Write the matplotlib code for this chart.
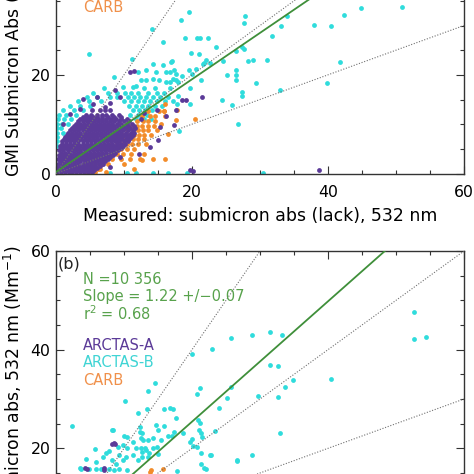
import matplotlib
matplotlib.use("Agg")
import numpy as np
import matplotlib.pyplot as plt
from matplotlib.ticker import MultipleLocator

PURPLE = "#5b3a98"
CYAN = "#2fdcdc"
ORANGE = "#f28c2a"
GREEN_LINE = "#3f8f3a"
GREEN_TEXT = "#58a24c"
DOT_GREY = "#707070"

campaigns = ["ARCTAS-A", "ARCTAS-B", "CARB"]
label_colors = [PURPLE, "#3fd4d4", "#f0904a"]

ref_slopes = [2.0, 1.0, 0.5]

# fit lines
fit_a = (0.94, 0.3)
fit_b = (1.22, 1.0)
stats_b = ["N =10 356", "Slope = 1.22 +/\u22120.07", "r$^2$ = 0.68"]

# ---------------- panel (a): dense rows (y, [x...]) + single points
a_purple_rows = [
    (0.3, [0.2, 0.7, 1.3, 1.9, 2.4, 3.0, 3.6, 4.1, 4.7, 5.3]),
    (0.7, [0.5, 1.0, 1.6, 2.2, 2.8, 3.3, 3.9, 4.4, 5.0, 5.6]),
    (1.1, [0.2, 0.8, 1.4, 2.0, 2.5, 3.1, 3.7, 4.3, 4.9, 5.5, 6.1]),
    (1.55, [0.5, 1.1, 1.7, 2.3, 2.8, 3.4, 4.0, 4.6, 5.2, 5.8, 6.4]),
    (2.0, [0.3, 0.9, 1.5, 2.1, 2.7, 3.3, 3.9, 4.5, 5.1, 5.7, 6.3, 6.9]),
    (2.45, [0.6, 1.2, 1.8, 2.4, 3.0, 3.6, 4.2, 4.8, 5.4, 6.0, 6.6, 7.2]),
    (2.9, [0.3, 0.9, 1.5, 2.2, 2.8, 3.4, 4.0, 4.6, 5.2, 5.8, 6.4, 7.0, 7.6]),
    (3.35, [0.6, 1.2, 1.9, 2.5, 3.1, 3.7, 4.3, 4.9, 5.5, 6.1, 6.7, 7.3, 8.0]),
    (3.8, [0.4, 1.0, 1.6, 2.2, 2.9, 3.5, 4.1, 4.7, 5.3, 5.9, 6.5, 7.1, 7.7, 8.4]),
    (4.25, [0.7, 1.3, 1.9, 2.6, 3.2, 3.8, 4.4, 5.0, 5.6, 6.2, 6.8, 7.4, 8.1, 8.7]),
    (4.7, [0.5, 1.1, 1.7, 2.3, 2.9, 3.5, 4.2, 4.8, 5.4, 6.0, 6.6, 7.2, 7.8, 8.4, 9.1]),
    (5.15, [0.8, 1.4, 2.0, 2.6, 3.2, 3.9, 4.5, 5.1, 5.7, 6.3, 6.9, 7.5, 8.1, 8.8, 9.5]),
    (5.6, [0.6, 1.2, 1.8, 2.4, 3.0, 3.6, 4.3, 4.9, 5.5, 6.1, 6.7, 7.3, 7.9, 8.5, 9.2, 9.9]),
    (6.05, [0.9, 1.5, 2.1, 2.7, 3.3, 4.0, 4.6, 5.2, 5.8, 6.4, 7.0, 7.6, 8.2, 8.9, 9.6, 10.2]),
    (6.5, [0.9, 1.5, 2.1, 2.7, 3.3, 3.9, 4.5, 5.1, 5.7, 6.3, 6.9, 7.5, 8.1, 8.7, 9.3, 10.0, 10.6]),
    (6.95, [1.2, 1.8, 2.4, 3.0, 3.6, 4.2, 4.8, 5.4, 6.0, 6.6, 7.2, 7.8, 8.4, 9.0, 9.6, 10.3, 10.8]),
    (7.4, [1.3, 1.9, 2.5, 3.1, 3.7, 4.3, 4.9, 5.5, 6.1, 6.7, 7.3, 7.9, 8.5, 9.1, 9.7, 10.4, 11.0]),
    (7.85, [1.6, 2.2, 2.8, 3.4, 4.0, 4.6, 5.2, 5.8, 6.4, 7.0, 7.6, 8.2, 8.8, 9.4, 10.0, 10.7, 11.3]),
    (8.3, [1.8, 2.4, 3.0, 3.6, 4.2, 4.8, 5.4, 6.0, 6.6, 7.2, 7.8, 8.4, 9.0, 9.6, 10.3, 11.0, 11.5]),
    (8.75, [2.1, 2.7, 3.3, 3.9, 4.5, 5.1, 5.7, 6.3, 6.9, 7.5, 8.1, 8.7, 9.3, 9.9, 10.6, 11.3]),
    (9.2, [2.3, 2.9, 3.5, 4.1, 4.7, 5.3, 5.9, 6.5, 7.1, 7.7, 8.3, 8.9, 9.5, 10.2, 10.9, 11.6]),
    (9.65, [2.6, 3.2, 3.8, 4.4, 5.0, 5.6, 6.2, 6.8, 7.4, 8.0, 8.6, 9.2, 9.9, 10.6, 11.4]),
    (10.1, [2.9, 3.5, 4.1, 4.7, 5.3, 5.9, 6.5, 7.1, 7.7, 8.3, 8.9, 9.6, 10.4, 11.2]),
    (10.55, [3.3, 3.9, 4.5, 5.0, 5.6, 6.2, 6.8, 7.4, 8.0, 8.6, 9.3, 10.0, 10.8]),
    (11.0, [3.6, 4.3, 5.0, 5.6, 6.2, 6.8, 7.4, 8.1, 8.8, 9.6, 10.5]),
    (11.45, [4.0, 4.7, 5.4, 6.1, 6.8, 7.6, 8.5, 9.5]),
    (11.9, [4.4, 5.2, 6.0, 6.7, 7.4, 8.3, 9.3]),
    (12.8, [5.3, 6.4, 7.2, 8.0]),
]
a_purple_pts = [
    (10.9, 20.6), (11.4, 20.8), (8.7, 16.9), (9.4, 15.6), (7.2, 13.5), (4.0, 15.2),
    (2.1, 12.1), (1.1, 10.1), (15.0, 6.8), (14.8, 12.8), (15.3, 9.4), (9.4, 3.3),
    (7.9, 1.3), (13.8, 5.3), (6.0, 15.5), (3.5, 13.1), (18.5, 14.8), (19.1, 14.9),
    (21.4, 15.5), (17.4, 9.9), (17.7, 12.8), (20.1, 0.5), (19.7, 0.7), (38.7, 0.8),
    (12.5, 11.0), (13.0, 12.2), (5.5, 14.0), (8.0, 14.2), (16.2, 11.6), (12.2, 4.0),
]
a_cyan_rows = [
    (16.4, [5.5, 7.6, 8.9, 10.2, 11.0, 12.1, 13.5, 14.8, 15.9]),
    (15.5, [4.5, 6.0, 7.9, 9.0, 10.6, 11.5, 12.4, 13.3, 14.2, 15.3, 16.4]),
    (14.6, [3.2, 4.8, 6.6, 10.0, 11.0, 12.0, 12.9, 13.8, 14.9, 16.0, 17.2]),
    (13.7, [2.0, 3.6, 5.0, 10.8, 11.7, 12.6, 13.5, 14.5, 15.6]),
    (12.8, [1.0, 2.6, 3.9, 11.3, 12.2, 13.1, 14.1]),
    (11.9, [0.4, 1.5, 2.9, 10.9, 12.0, 13.4]),
    (11.0, [0.3, 1.2, 2.2, 11.7, 12.9, 14.0]),
    (10.1, [0.2, 0.9, 1.7]),
    (9.2, [0.2, 0.8]),
    (8.3, [0.2, 1.0]),
    (7.4, [0.2]),
    (6.5, [0.2]),
    (5.5, [0.2]),
]
a_cyan_pts = [
    (4.8, 24.3), (14.1, 29.3), (15.7, 26.6), (11.2, 23.3), (14.2, 22.2), (15.7, 21.9),
    (16.9, 22.6), (13.2, 20.9), (14.7, 20.5), (16.2, 20.5), (17.4, 20.9), (8.6, 19.5),
    (12.0, 20.5), (12.5, 18.9), (11.8, 17.8), (13.2, 18.9), (14.2, 19.2), (15.2, 18.9),
    (16.2, 18.6), (17.2, 19.2), (9.8, 17.5), (11.3, 17.5), (13.0, 17.4), (14.5, 17.4),
    (16.7, 17.4), (7.1, 17.4), (19.6, 32.7), (18.4, 31.2), (27.8, 31.9), (27.7, 30.6),
    (33.9, 31.9), (33.1, 29.9), (38.0, 30.2), (19.0, 27.4), (20.7, 27.5), (21.2, 27.4),
    (22.4, 27.4), (31.7, 27.8), (23.6, 25.6), (27.4, 25.6), (19.8, 24.4), (21.1, 24.3),
    (17.0, 22.8), (21.7, 22.5), (22.1, 23.0), (22.7, 22.4), (21.6, 22.1), (24.5, 22.9),
    (26.5, 24.9), (27.6, 25.3), (28.3, 22.8), (29.0, 23.1), (31.0, 23.0), (16.8, 20.5),
    (17.6, 20.2), (18.6, 19.8), (17.7, 18.9), (16.8, 18.6), (18.0, 18.6), (19.5, 21.0),
    (20.0, 20.2), (20.6, 21.1), (21.3, 18.9), (19.7, 17.4), (18.0, 15.8), (17.8, 14.0),
    (19.7, 14.1), (25.1, 19.9), (26.4, 20.9), (26.4, 19.9), (26.4, 18.9), (29.4, 18.3),
    (27.3, 16.5), (27.3, 15.7), (33.0, 17.0), (24.4, 14.8), (25.9, 13.8), (26.8, 10.1),
    (18.1, 8.6), (19.3, 0.1), (30.5, 0.1), (40.4, 30.0), (42.4, 32.2), (44.9, 33.5),
    (50.9, 33.7), (41.7, 22.7), (39.8, 18.3), (10.4, 0.1), (11.8, 0.2), (14.3, 0.2),
    (16.5, 0.2), (7.9, 0.2),
]
a_orange_rows = [
    (12.6, [13.5, 15.2, 15.9]),
    (11.6, [12.6, 13.8, 14.6, 16.1]),
    (10.7, [11.9, 12.8, 13.6, 14.5]),
    (9.7, [11.1, 11.9, 12.7, 13.5, 14.4]),
    (8.8, [10.5, 11.3, 12.0, 12.8, 13.6, 14.8]),
    (7.8, [9.8, 10.6, 11.4, 12.2, 13.0, 13.9]),
    (6.9, [9.0, 9.8, 10.5, 11.3, 12.1, 13.0]),
    (5.9, [8.1, 8.9, 9.7, 10.4, 11.2, 12.0, 13.2]),
    (5.0, [7.3, 8.1, 8.9, 9.6, 10.4, 11.5]),
    (4.0, [6.5, 7.3, 8.1, 8.9, 9.8, 11.0, 13.0]),
    (3.0, [5.8, 6.6, 7.4, 8.2, 9.5, 10.9, 12.3, 14.3, 16.0]),
    (2.0, [5.0, 5.8, 6.7, 7.6, 10.0]),
    (1.0, [4.5, 5.3, 6.2, 6.5, 11.4]),
    (0.3, [4.2, 5.0, 5.8, 7.4]),
]
a_orange_pts = [
    (16.0, 14.1), (15.9, 12.6), (17.8, 12.8), (17.7, 10.9), (20.4, 11.1),
    (12.6, 2.8), (15.5, 10.0), (16.5, 8.0),
]

# ---------------- panel (b): single points
b_cyan_pts = [
    (52.7, 47.7), (52.7, 42.2), (54.4, 42.6), (28.8, 43.0), (31.5, 43.6), (33.2, 43.0),
    (31.5, 36.9), (32.6, 36.7), (34.8, 33.8), (33.7, 32.5), (40.4, 34.1), (29.7, 30.6),
    (32.6, 30.4), (32.9, 23.1), (28.8, 18.6), (26.6, 17.4), (25.7, 42.4), (22.9, 40.1),
    (20.0, 39.2), (14.5, 33.3), (13.6, 31.7), (21.2, 32.3), (20.8, 31.0), (25.7, 32.4),
    (25.2, 30.2), (13.4, 27.9), (15.9, 27.9), (16.8, 28.1), (17.2, 28.0), (24.0, 28.1),
    (17.7, 26.1), (14.7, 24.7), (15.9, 24.5), (12.4, 24.4), (21.2, 25.2), (18.7, 23.2),
    (21.3, 23.2), (17.3, 23.4), (16.5, 22.5), (17.0, 22.5), (23.4, 23.5), (20.0, 21.8),
    (20.2, 20.4), (12.6, 23.1), (12.8, 21.7), (13.6, 21.7), (14.3, 22.0), (15.4, 21.7),
    (14.8, 20.3), (14.3, 20.0), (13.1, 20.0), (12.6, 19.3), (15.0, 18.8), (13.6, 18.3),
    (21.3, 19.1), (22.8, 18.6), (21.3, 16.9), (21.8, 16.0), (17.8, 15.4), (2.35, 24.6),
    (10.2, 29.6), (12.0, 27.1), (8.2, 23.8), (10.0, 22.5), (12.3, 23.4), (12.5, 22.0),
    (11.3, 21.3), (11.8, 20.0), (5.8, 19.8), (4.4, 17.8), (6.9, 18.3), (7.4, 19.0),
    (7.8, 19.4), (9.1, 20.3), (9.8, 20.6), (10.5, 20.0), (5.9, 17.3), (4.9, 15.9),
    (5.9, 15.9), (6.6, 15.9), (3.7, 15.9), (8.3, 17.6), (8.8, 16.9), (9.8, 17.6),
    (9.3, 18.6), (10.3, 18.3), (11.3, 18.6), (12.0, 17.6), (12.7, 18.3), (13.2, 19.6),
    (12.5, 20.0), (13.7, 19.0), (7.8, 15.9), (8.6, 15.6), (9.3, 15.9), (10.5, 15.6),
    (8.4, 23.7), (10.4, 22.3), (21.0, 23.7), (21.4, 22.3), (19.7, 21.3), (20.7, 20.3),
    (26.6, 17.6), (22.6, 18.6), (22.1, 15.9), (3.5, 16.0), (15.0, 23.7), (20.9, 25.7),
]
b_purple_pts = [(8.2, 20.9), (8.7, 20.9), (8.5, 21.1), (4.3, 16.1), (4.5, 15.8),
                (7.1, 16.0), (7.0, 15.7)]
b_orange_pts = [(15.8, 15.9), (13.8, 15.2), (14.0, 15.6)]


def expand(rows, pts):
    xs = [x for y, row in rows for x in row] + [p[0] for p in pts]
    ys = [y for y, row in rows for x in row] + [p[1] for p in pts]
    return xs, ys


def style_axis(ax):
    ax.set_xlim(0, 60)
    ax.set_ylim(0, 60)
    ax.xaxis.set_major_locator(MultipleLocator(20))
    ax.yaxis.set_major_locator(MultipleLocator(20))
    ax.xaxis.set_minor_locator(MultipleLocator(5))
    ax.yaxis.set_minor_locator(MultipleLocator(5))
    ax.tick_params(which="both", direction="in", top=True, right=True,
                   color="#333333", width=0.8, labelsize=11.3)
    ax.tick_params(which="major", length=5.5)
    ax.tick_params(which="minor", length=3)
    ax.tick_params(axis="x", pad=8)
    ax.tick_params(axis="y", pad=4)
    for sp in ax.spines.values():
        sp.set_linewidth(1.0)
        sp.set_color("#333333")


def draw_panel(ax, data, fit, letter, stats):
    xline = np.array([0, 60])
    for (xs, ys), c in data:
        ax.scatter(xs, ys, s=12, color=c, linewidths=0, zorder=2)
    for k in ref_slopes:
        ax.plot(xline, k * xline, ls=(0, (1, 1.5)), lw=0.8, color=DOT_GREY, zorder=3)
    ax.plot(xline, fit[0] * xline + fit[1], color=GREEN_LINE, lw=1.3, zorder=4)
    ax.text(0.3, 57.4, letter, fontsize=11.5, va="center", ha="left", color="#222222")
    for i, s in enumerate(stats):
        ax.text(4.0, [54.3, 50.7, 47.4][i], s, fontsize=10.5, color=GREEN_TEXT,
                va="center", ha="left")
    for i, (name, c) in enumerate(zip(campaigns, label_colors)):
        ax.text(4.0, [40.9, 37.3, 33.7][i], name, fontsize=10.5, color=c,
                va="center", ha="left")
    style_axis(ax)


fig = plt.figure(figsize=(4.74, 4.74), dpi=100)
W, H = 474.0, 474.0
ax_a = fig.add_axes([56 / W, (H - 173.5) / H, 408 / W, 296 / H])
ax_b = fig.add_axes([56 / W, (H - 251 - 296) / H, 408 / W, 296 / H])

data_a = [
    (expand(a_cyan_rows, a_cyan_pts), CYAN),
    (expand(a_orange_rows, a_orange_pts), ORANGE),
    (expand(a_purple_rows, a_purple_pts), PURPLE),
]
data_b = [
    (expand([], b_cyan_pts), CYAN),
    (expand([], b_orange_pts), ORANGE),
    (expand([], b_purple_pts), PURPLE),
]
draw_panel(ax_a, data_a, fit_a, "(a)", [])
draw_panel(ax_b, data_b, fit_b, "(b)", stats_b)

ax_a.set_xlabel("Measured: submicron abs (lack), 532 nm", fontsize=12.4, labelpad=5)
fig.text(13 / W, (H - 177) / H, "GMI Submicron Abs (Mm$^{-1}$)", rotation=90,
         fontsize=12.4, ha="center", va="bottom")
fig.text(12.5 / W, (H - 245) / H, "GMI Submicron abs, 532 nm (Mm$^{-1}$)", rotation=90,
         fontsize=12.4, ha="center", va="top")

fig.savefig("out.png", dpi=100)
